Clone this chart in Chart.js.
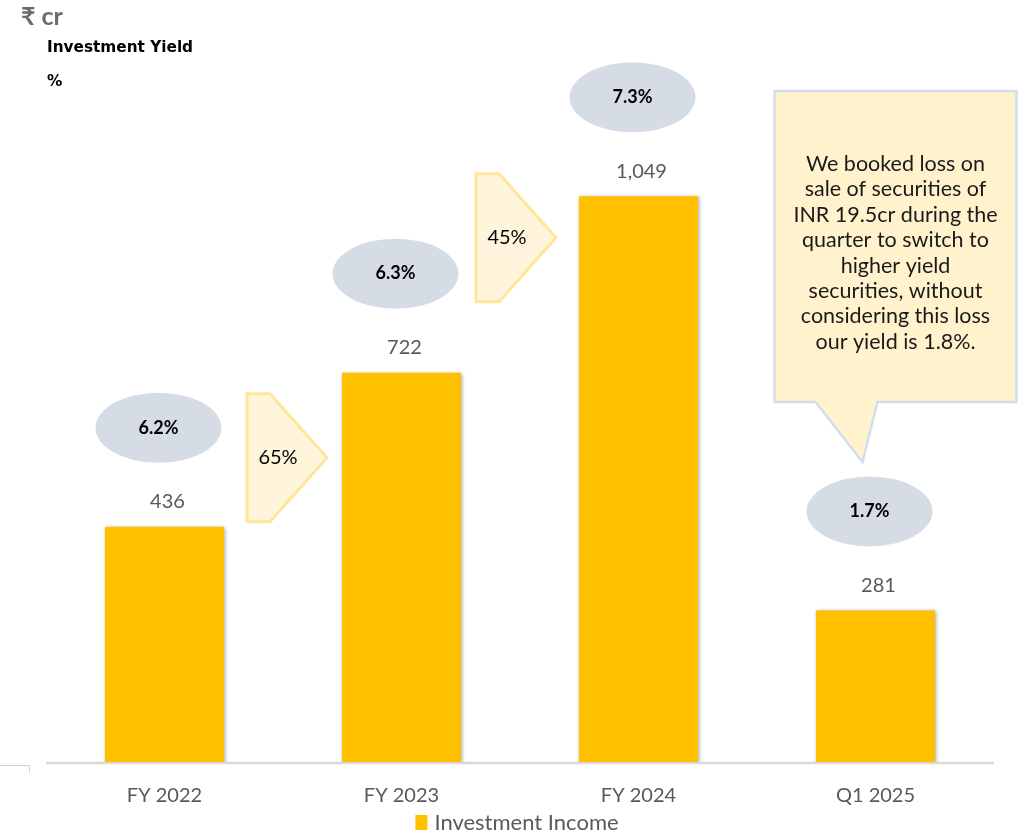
<!DOCTYPE html>
<html>
<head>
<meta charset="utf-8">
<script src="https://cdn.jsdelivr.net/npm/chart.js@4.4.1/dist/chart.umd.min.js"></script>
<style>
  html, body { margin: 0; padding: 0; background: #fff; }
  #wrap { position: relative; width: 1029px; height: 834px; }
  .hdr { position: absolute; font-weight: bold; }
</style>
</head>
<body>
<div id="wrap">
  <canvas id="grafica" width="1029" height="834"></canvas>
  <div class="hdr" style="left:21px; top:0px; font-size:25px; color:#6b6b6b; font-family:Lato, sans-serif;">₹ cr</div>
  <div class="hdr" style="left:47px; top:38px; font-size:15.3px; color:#000; font-family:'DejaVu Sans', sans-serif;">Investment Yield</div>
  <div class="hdr" style="left:47px; top:72px; font-size:15.3px; color:#000; font-family:'DejaVu Sans', sans-serif;">%</div>
</div>
<script>
// datos
const periodos = ["FY 2022", "FY 2023", "FY 2024", "Q1 2025"];
const ingresos = [436, 722, 1049, 281];
const rendimientos = ["6.2%", "6.3%", "7.3%", "1.7%"];
const crecimientos = ["65%", "45%"];
const notaTexto = [
  "We booked loss on",
  "sale of securities of",
  "INR 19.5cr during the",
  "quarter to switch to",
  "higher yield",
  "securities, without",
  "considering this loss",
  "our yield is 1.8%."
];
const serieNombre = "Investment Income";

const AMARILLO = "#ffc000";
const GRIS = "#595959";

// sombra suave de las barras
const sombraBarras = {
  id: "sombraBarras",
  beforeDatasetDraw(chart) {
    const ctx = chart.ctx;
    ctx.save();
    ctx.shadowColor = "rgba(0,0,0,0.35)";
    ctx.shadowBlur = 4;
    ctx.shadowOffsetX = 1;
    ctx.shadowOffsetY = 1;
  },
  afterDatasetDraw(chart) {
    chart.ctx.restore();
  }
};

// línea del eje (debajo de las barras)
const ejeBase = {
  id: "ejeBase",
  beforeDatasetsDraw(chart) {
    const ctx = chart.ctx;
    const meta = chart.getDatasetMeta(0);
    const base = chart.scales.y.getPixelForValue(0);
    const paso = meta.data[1].x - meta.data[0].x;
    ctx.save();
    ctx.strokeStyle = "#d9d9d9";
    ctx.lineWidth = 2.5;
    ctx.beginPath();
    ctx.moveTo(meta.data[0].x - paso / 2, base + 1);
    ctx.lineTo(meta.data[3].x + paso / 2, base + 1);
    ctx.stroke();
    // pequeño resto de marco abajo a la izquierda
    ctx.strokeStyle = "#d0d0d0";
    ctx.lineWidth = 1;
    ctx.beginPath();
    ctx.moveTo(0, base + 3.5);
    ctx.lineTo(29.5, base + 3.5);
    ctx.lineTo(29.5, base + 11);
    ctx.stroke();
    ctx.restore();
  }
};

// etiquetas, elipses, flechas, nota y leyenda
const anotaciones = {
  id: "anotaciones",
  afterDraw(chart) {
    const ctx = chart.ctx;
    const x = chart.scales.x;
    const y = chart.scales.y;
    const meta = chart.getDatasetMeta(0);
    const base = y.getPixelForValue(0);

    ctx.save();
    meta.data.forEach((bar, i) => {
      const cx = bar.x;
      const top = bar.y;
      // valor
      ctx.fillStyle = GRIS;
      ctx.font = "20px Lato, sans-serif";
      ctx.textAlign = "center";
      ctx.textBaseline = "middle";
      ctx.fillText(ingresos[i].toLocaleString("en-US"), cx + 3, top - 25);
      // elipse del rendimiento
      ctx.fillStyle = "#d6dce5";
      ctx.beginPath();
      ctx.ellipse(cx - 6, top - 99, 63, 35, 0, 0, Math.PI * 2);
      ctx.fill();
      ctx.fillStyle = "#000";
      ctx.font = "bold 18px Lato, sans-serif";
      ctx.fillText(rendimientos[i], cx - 6, top - 99);
    });

    // flechas de crecimiento entre barras
    const posFlechas = [564, 972]; // altura en unidades del eje
    const desp = [4, -4];
    crecimientos.forEach((txt, i) => {
      const xm = (meta.data[i].x + meta.data[i + 1].x) / 2 + desp[i];
      const ym = y.getPixelForValue(posFlechas[i]);
      const l = xm - 40, r = xm + 40, h = 64;
      ctx.fillStyle = "#fff5dd";
      ctx.strokeStyle = "#ffe699";
      ctx.lineWidth = 3;
      ctx.beginPath();
      ctx.moveTo(l, ym - h);
      ctx.lineTo(l + 23, ym - h);
      ctx.lineTo(r, ym);
      ctx.lineTo(l + 23, ym + h);
      ctx.lineTo(l, ym + h);
      ctx.closePath();
      ctx.fill();
      ctx.stroke();
      ctx.fillStyle = "#000";
      ctx.font = "20px Lato, sans-serif";
      ctx.textAlign = "center";
      ctx.textBaseline = "middle";
      ctx.fillText(txt, xm - 9, ym);
    });

    // nota (globo) sobre Q1 2025
    const bx = meta.data[3].x;
    const L = bx - 101, R = bx + 141, T = 91, B = 402;
    ctx.fillStyle = "#fff2cc";
    ctx.strokeStyle = "#d3ddef";
    ctx.lineWidth = 2.5;
    ctx.beginPath();
    ctx.moveTo(L, T);
    ctx.lineTo(R, T);
    ctx.lineTo(R, B);
    ctx.lineTo(bx + 2, B);
    ctx.lineTo(bx - 13, 462);
    ctx.lineTo(bx - 60, B);
    ctx.lineTo(L, B);
    ctx.closePath();
    ctx.fill();
    ctx.stroke();
    ctx.fillStyle = "#1a1a1a";
    ctx.font = "21.5px Lato, sans-serif";
    ctx.textAlign = "center";
    ctx.textBaseline = "middle";
    notaTexto.forEach((linea, k) => {
      ctx.fillText(linea, (L + R) / 2, 164 + k * 25.4);
    });

    // leyenda
    const ly = base + 60;
    ctx.font = "22px Lato, sans-serif";
    const tw = ctx.measureText(serieNombre).width;
    const lx = 517 - (tw + 19) / 2;
    ctx.fillStyle = AMARILLO;
    ctx.fillRect(lx, ly - 7, 12, 15);
    ctx.fillStyle = GRIS;
    ctx.textAlign = "left";
    ctx.fillText(serieNombre, lx + 19, ly + 1);
    ctx.restore();
  }
};

new Chart(document.getElementById("grafica"), {
  type: "bar",
  data: {
    labels: periodos,
    datasets: [{
      label: serieNombre,
      data: ingresos,
      backgroundColor: AMARILLO,
      borderWidth: 0,
      categoryPercentage: 1.0,
      barPercentage: 0.502
    }]
  },
  options: {
    responsive: false,
    animation: false,
    layout: { padding: { left: 46, right: 35, top: 7, bottom: 4 } },
    scales: {
      x: {
        grid: { display: false, drawTicks: false },
        border: { display: false },
        ticks: { color: GRIS, font: { family: "Lato", size: 20 }, padding: 22 }
      },
      y: { display: false, min: 0, max: 1400 }
    },
    plugins: {
      legend: { display: false },
      tooltip: { enabled: false }
    }
  },
  plugins: [sombraBarras, ejeBase, anotaciones]
});
</script>
</body>
</html>
